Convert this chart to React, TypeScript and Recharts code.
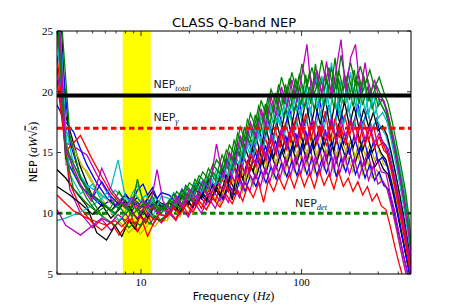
import { ComposedChart, Line, Area, XAxis, YAxis } from 'recharts';

const W = 457;
const H = 305;
// axes take 1px each, so the plot box is 57..411 x 31..274
const MARGIN = { top: 30, right: 45, bottom: 30, left: 56 };

// frequency grids (Hz); B and C are shifted by a fraction of a bin
const FREQ_A = [
  3.0, 3.4, 3.8, 4.6, 5.3, 6.1, 6.9, 7.6, 8.4, 9.2, 9.9, 10.7, 11.4, 12.2, 13.0,
  14.5, 16, 17.5, 19, 21, 23, 25.5, 28,
  31, 34, 37, 40, 43, 46, 50, 54,
  58, 62, 67, 72, 78, 84, 90, 97,
  104, 112, 120, 129, 138, 148, 159, 170,
  182, 195, 209, 224, 240, 257, 275, 294,
  314, 335, 357, 380, 404, 430, 458, 480,
];
const FREQ_B = [
  3.0, 3.4, 4.2, 4.9, 5.7, 6.5, 7.2, 8.0, 8.8, 9.5, 10.3, 11.0, 11.8, 12.6, 13.7,
  15.2, 16.7, 18.2, 20.0, 22.0, 24.2, 26.7, 29.5,
  32.5, 35.5, 38.5, 41.5, 44.5, 48, 52, 56,
  60, 64.5, 69.5, 75, 81, 87, 93.5, 100.5,
  108, 116, 124.5, 133.5, 143, 153.5, 164.5, 176,
  188.5, 202, 216.5, 232, 248.5, 266, 284.5, 304,
  324.5, 346, 368.5, 392, 417, 444, 469, 480,
];
const FREQ_C = [
  3.0, 3.6, 4.2, 5.0, 5.7, 6.5, 7.3, 8.0, 8.8, 9.5, 10.3, 11.0, 11.8, 12.6, 13.4,
  15.0, 16.5, 18.0, 19.7, 21.7, 23.8, 26.3, 29.0,
  32, 35, 38, 41, 44, 47.5, 51.5, 55.5,
  59.5, 63.5, 68.5, 73.5, 79.5, 85.5, 92, 99,
  106, 114, 122, 131, 140.5, 150.5, 161.5, 173,
  185, 198.5, 212.5, 228, 244, 261.5, 280, 299,
  319.5, 341, 363, 386, 410, 437, 462, 480,
];

// detector NEP curves (aW*sqrt(s)), one value per grid frequency
const blueA = [
  18.9, 17.5, 16.7, 14.0, 12.5, 11.3, 10.6, 10.9, 10.2, 10.8, 10.4, 11.0, 10.5, 10.9, 10.6,
  10.6, 11.6, 11.0, 12.1, 11.5, 12.6, 12.1, 13.3,
  12.7, 14.3, 13.6, 15.3, 14.3, 16.2, 15.0, 16.9,
  15.7, 17.6, 16.3, 18.3, 16.8, 18.6, 17.0, 19.1,
  17.2, 18.8, 17.1, 19.4, 17.5, 18.9, 16.9, 19.2,
  17.6, 18.7, 17.0, 19.0, 17.3, 18.5, 16.8, 17.8,
  16.0, 15.6, 14.2, 12.8, 11.0, 9.2, 7.1, 5.6,
];
const greenB = [
  27.0, 15.5, 12.8, 11.6, 10.9, 10.2, 10.7, 9.9, 10.6, 12.8, 10.9, 10.4, 10.9, 10.2, 10.7,
  10.5, 11.8, 11.2, 12.5, 12.0, 13.4, 12.7, 14.4,
  13.6, 15.6, 14.8, 17.1, 16.0, 18.2, 17.0, 19.3,
  18.1, 20.2, 19.0, 21.2, 19.6, 21.6, 20.0, 22.3,
  20.4, 22.0, 20.3, 22.6, 20.6, 21.9, 20.2, 23.0,
  20.8, 22.4, 20.5, 22.1, 20.6, 21.8, 20.3, 21.2,
  20.0, 19.0, 17.4, 15.6, 13.8, 11.8, 9.4, 7.4,
];
const redA = [
  11.5, 10.8, 10.2, 9.6, 9.3, 9.0, 9.4, 8.9, 9.5, 9.1, 9.7, 9.2, 9.8, 9.4, 9.9,
  9.7, 10.5, 9.9, 10.8, 10.1, 11.0, 10.3, 11.2,
  10.5, 11.5, 10.8, 11.9, 11.0, 12.2, 11.3, 12.5,
  10.9, 12.7, 11.8, 13.0, 12.0, 13.2, 12.1, 13.4,
  12.2, 13.3, 12.1, 13.5, 12.3, 13.2, 12.0, 13.4,
  12.2, 12.9, 11.8, 12.6, 11.5, 12.2, 11.0, 11.6,
  10.6, 10.3, 8.9, 7.3, 5.9, 4.6, 3.8, 3.2,
];
const cyanB = [
  9.4, 9.6, 10.1, 10.6, 11.2, 12.1, 14.4, 11.3, 10.8, 10.1, 10.9, 10.3, 11.1, 10.5, 10.2,
  10.0, 11.3, 10.7, 11.9, 11.2, 12.7, 12.0, 13.6,
  12.8, 14.6, 13.8, 15.9, 14.9, 16.8, 15.8, 17.9,
  16.8, 18.8, 17.5, 19.4, 18.0, 20.1, 18.4, 20.6,
  18.7, 20.8, 18.6, 21.3, 18.9, 22.4, 18.5, 20.9,
  19.0, 21.6, 18.7, 20.7, 18.4, 20.2, 18.1, 19.3,
  18.6, 17.8, 16.6, 15.0, 13.2, 11.3, 8.9, 6.9,
];
const magentaA = [
  26.0, 15.8, 15.5, 14.8, 13.2, 11.8, 10.7, 11.2, 10.3, 10.9, 10.1, 10.6, 10.0, 10.5, 9.9,
  9.8, 10.7, 10.1, 11.1, 10.4, 11.5, 10.7, 11.9,
  11.0, 12.5, 11.6, 13.1, 12.0, 13.6, 12.5, 14.1,
  13.0, 14.5, 13.3, 14.9, 13.6, 15.2, 13.8, 15.4,
  13.9, 15.6, 13.8, 15.3, 14.0, 15.7, 13.7, 15.5,
  14.1, 15.8, 13.9, 15.4, 13.8, 15.0, 13.6, 14.5,
  13.4, 13.3, 11.6, 10.2, 8.4, 6.6, 5.0, 4.0,
];
const yellowB = [
  29.0, 16.8, 14.2, 12.6, 11.5, 10.8, 11.3, 10.5, 11.1, 10.4, 11.0, 10.6, 11.2, 10.7, 10.3,
  10.2, 11.1, 10.4, 11.6, 10.9, 12.0, 11.2, 12.5,
  11.6, 13.1, 12.2, 13.8, 12.7, 14.4, 13.3, 14.9,
  13.8, 15.4, 14.1, 15.8, 14.5, 16.1, 14.8, 16.3,
  14.9, 16.4, 14.8, 16.2, 15.0, 16.6, 14.7, 16.3,
  15.1, 16.0, 14.6, 16.2, 14.8, 15.7, 14.4, 15.2,
  14.0, 13.9, 12.4, 10.9, 9.1, 7.3, 5.6, 4.4,
];
const blackA = [
  13.6, 12.9, 12.0, 10.6, 8.4, 7.8, 9.0, 8.1, 9.4, 8.7, 9.9, 9.2, 10.1, 9.6, 9.4,
  9.8, 10.8, 10.0, 11.3, 10.5, 11.8, 11.0, 12.4,
  11.4, 13.1, 11.1, 13.9, 12.8, 14.3, 13.5, 15.3,
  14.1, 15.8, 14.6, 16.3, 15.0, 16.7, 15.2, 16.9,
  15.4, 16.9, 15.3, 17.2, 15.6, 16.8, 15.1, 17.4,
  15.7, 16.9, 15.4, 16.6, 15.2, 16.4, 15.0, 15.8,
  14.9, 14.4, 12.9, 11.3, 9.5, 7.6, 5.8, 4.6,
];
const blueB = [
  25.5, 14.5, 12.2, 11.4, 10.6, 11.1, 10.4, 11.0, 10.2, 10.9, 10.5, 11.2, 10.6, 10.2, 10.8,
  10.3, 11.0, 10.4, 11.3, 10.6, 11.6, 10.9, 11.9,
  11.1, 12.3, 11.5, 12.8, 11.8, 13.1, 12.2, 13.5,
  12.5, 13.8, 12.8, 14.1, 13.0, 14.3, 13.1, 14.5,
  13.2, 14.6, 13.1, 14.4, 13.3, 14.7, 13.0, 14.5,
  13.4, 14.8, 13.2, 14.3, 12.9, 14.0, 12.7, 13.4,
  12.3, 12.0, 10.6, 9.0, 7.4, 5.8, 4.5, 3.6,
];
const greenA = [
  28.0, 16.0, 13.4, 11.2, 10.1, 9.5, 9.0, 9.6, 8.8, 9.3, 9.0, 9.5, 9.1, 9.8, 9.4,
  9.8, 11.0, 10.3, 11.7, 11.0, 12.5, 11.8, 13.4,
  12.6, 14.5, 13.7, 15.8, 14.7, 16.7, 15.6, 17.8,
  16.6, 18.7, 17.4, 19.5, 17.9, 20.0, 18.3, 20.5,
  18.6, 20.4, 18.5, 20.8, 18.9, 20.6, 18.7, 21.1,
  19.0, 20.7, 18.8, 20.9, 18.9, 20.4, 18.6, 19.8,
  18.9, 18.2, 16.7, 15.0, 13.1, 11.0, 8.7, 6.6,
];
const redB = [
  21.0, 15.1, 16.4, 14.6, 13.0, 11.7, 11.0, 10.4, 10.9, 10.2, 10.7, 10.0, 10.6, 10.1, 10.5,
  10.0, 11.1, 10.4, 11.6, 10.8, 12.0, 11.3, 12.6,
  11.8, 13.4, 12.5, 14.2, 13.2, 14.8, 13.8, 15.5,
  14.3, 16.1, 14.8, 16.6, 15.2, 16.9, 15.4, 17.2,
  15.6, 17.3, 15.7, 17.0, 15.5, 17.4, 15.8, 17.1,
  15.6, 17.5, 15.9, 17.2, 15.6, 17.0, 15.4, 16.3,
  15.2, 14.8, 13.2, 11.6, 9.8, 7.9, 6.0, 4.7,
];
const cyanA = [
  30.0, 17.2, 14.0, 12.3, 11.8, 11.2, 11.9, 11.4, 10.8, 11.6, 11.0, 11.5, 10.9, 11.3, 10.8,
  10.5, 11.7, 10.9, 12.1, 11.3, 12.7, 11.9, 13.3,
  12.4, 14.1, 13.2, 15.0, 14.0, 15.8, 14.7, 16.6,
  15.4, 17.2, 15.9, 17.8, 16.3, 18.2, 16.6, 18.4,
  16.8, 18.6, 16.7, 18.3, 17.0, 18.8, 16.9, 18.5,
  17.2, 18.9, 16.8, 18.6, 17.1, 18.4, 16.9, 17.7,
  17.0, 16.4, 15.1, 13.5, 11.7, 9.7, 7.6, 5.9,
];
const magentaB = [
  30.0, 15.2, 12.4, 11.0, 13.7, 12.0, 11.2, 10.6, 11.3, 10.5, 11.1, 10.4, 11.6, 13.6, 11.0,
  10.2, 11.4, 10.6, 12.0, 11.3, 12.6, 12.0, 15.7,
  12.9, 15.0, 14.0, 16.4, 15.2, 17.5, 16.2, 18.6,
  17.1, 19.6, 18.0, 20.4, 18.7, 21.0, 19.1, 21.4,
  23.9, 19.5, 21.8, 19.8, 22.5, 19.6, 21.9, 24.3,
  20.0, 22.8, 23.9, 19.9, 22.4, 19.6, 21.0, 19.4,
  19.3, 18.0, 16.2, 14.4, 12.4, 10.3, 8.0, 6.2,
];
const yellowA = [
  25.8, 14.0, 14.3, 13.5, 12.0, 10.6, 9.6, 9.1, 8.4, 8.9, 8.3, 8.8, 9.3, 8.9, 9.4,
  9.4, 10.4, 9.7, 10.7, 10.0, 11.1, 10.3, 11.5,
  10.7, 12.0, 11.2, 12.6, 11.7, 13.2, 12.2, 13.6,
  12.6, 14.1, 12.9, 14.4, 13.2, 14.7, 13.4, 14.9,
  13.5, 14.8, 13.4, 15.0, 13.6, 14.9, 13.3, 15.1,
  13.7, 14.6, 13.4, 14.8, 13.2, 14.3, 12.9, 13.6,
  12.6, 12.3, 10.9, 9.3, 7.6, 5.9, 4.6, 3.7,
];
const blackB = [
  33.0, 18.0, 13.8, 11.6, 10.8, 10.2, 10.9, 11.5, 10.9, 11.3, 10.6, 11.2, 11.8, 11.1, 10.7,
  10.0, 10.9, 10.2, 11.3, 10.6, 11.7, 10.9, 12.2,
  11.2, 12.8, 11.9, 13.4, 12.4, 13.9, 12.9, 14.4,
  13.3, 14.9, 13.7, 15.2, 14.0, 15.5, 14.1, 15.7,
  14.3, 15.8, 14.2, 15.6, 14.4, 15.9, 14.1, 15.7,
  14.5, 16.0, 14.3, 15.5, 14.0, 15.2, 13.8, 14.4,
  13.6, 13.2, 11.8, 10.2, 8.4, 6.7, 5.1, 4.0,
];
const magentaB2 = [
  10.3, 9.0, 8.2, 8.9, 9.6, 9.2, 9.9, 9.4, 10.1, 9.6, 10.3, 9.8, 10.5, 10.0, 10.4,
  9.9, 11.1, 10.3, 11.6, 10.8, 12.1, 11.3, 12.7,
  11.9, 13.6, 12.6, 14.4, 13.3, 15.1, 14.0, 15.8,
  14.6, 16.5, 15.1, 17.0, 15.5, 17.3, 15.8, 17.6,
  16.0, 17.7, 15.9, 17.4, 16.2, 17.9, 16.0, 17.6,
  16.3, 17.8, 15.9, 17.5, 16.1, 17.2, 15.8, 16.6,
  15.7, 15.3, 13.8, 12.1, 10.3, 8.4, 6.4, 5.0,
];
const greenA2 = [
  26.5, 14.8, 12.0, 10.8, 10.1, 10.6, 10.0, 10.8, 10.3, 11.1, 10.5, 10.9, 10.2, 10.7, 10.4,
  10.4, 11.6, 10.9, 12.3, 11.7, 13.1, 12.5, 14.0,
  13.3, 15.2, 14.4, 16.6, 15.5, 17.7, 16.6, 18.8,
  17.6, 19.7, 18.4, 20.6, 19.0, 21.1, 19.4, 21.5,
  19.7, 21.6, 19.8, 21.3, 20.1, 22.0, 19.9, 21.8,
  20.2, 21.5, 19.8, 21.7, 20.0, 21.1, 19.7, 20.5,
  19.6, 18.6, 17.0, 15.3, 13.5, 11.5, 9.1, 7.0,
];
const cyanC = [
  24.5, 13.2, 11.6, 12.4, 11.0, 10.2, 9.4, 10.1, 11.6, 12.3, 11.2, 10.3, 9.7, 10.6, 11.4,
  11.2, 10.6, 11.9, 11.1, 12.5, 11.7, 13.2, 12.3,
  14.0, 13.1, 15.0, 14.0, 16.1, 14.9, 17.0, 15.8,
  17.9, 16.6, 18.8, 17.2, 19.6, 17.8, 20.2, 18.1,
  20.5, 18.2, 21.6, 17.9, 20.7, 18.4, 21.2, 18.0,
  20.9, 18.3, 20.4, 17.9, 21.0, 18.2, 19.8, 17.8,
  18.3, 17.5, 15.9, 14.1, 12.3, 10.2, 8.1, 6.6,
];
const redC = [
  23.0, 12.5, 10.4, 9.2, 8.6, 9.3, 8.2, 8.9, 9.6, 8.5, 9.2, 8.1, 9.0, 9.8, 9.3,
  10.2, 9.5, 10.8, 9.9, 11.3, 10.4, 11.9, 11.0,
  12.8, 11.8, 13.7, 12.6, 14.6, 13.4, 15.4, 14.2,
  16.2, 14.9, 16.9, 15.4, 17.5, 15.8, 17.9, 16.1,
  18.2, 16.0, 17.6, 16.3, 18.4, 15.9, 17.8, 16.2,
  18.1, 16.4, 17.7, 15.8, 17.6, 16.0, 17.2, 15.5,
  15.8, 14.9, 13.4, 11.7, 9.9, 8.0, 6.1, 4.8,
];
const blueC = [
  27.5, 15.9, 13.0, 11.3, 12.6, 11.4, 10.7, 11.6, 10.9, 11.9, 12.4, 11.5, 12.1, 11.2, 11.7,
  11.5, 10.9, 12.0, 11.3, 12.4, 11.6, 12.9, 12.0,
  13.4, 12.4, 13.9, 12.9, 14.5, 13.4, 15.0, 13.8,
  15.6, 14.2, 16.0, 14.5, 16.4, 14.7, 16.6, 14.8,
  16.8, 14.9, 16.5, 15.0, 16.9, 14.7, 16.6, 15.1,
  16.7, 14.8, 16.4, 14.9, 16.2, 14.5, 15.9, 14.3,
  14.6, 13.9, 12.5, 10.8, 9.1, 7.2, 5.5, 4.3,
];
const greenC = [
  31.0, 16.5, 12.9, 11.0, 9.8, 10.5, 11.8, 10.9, 9.7, 10.4, 9.9, 10.8, 11.4, 10.5, 10.0,
  11.1, 10.5, 11.9, 11.2, 12.8, 11.9, 13.7, 12.7,
  14.8, 13.6, 16.0, 14.7, 17.1, 15.7, 18.1, 16.6,
  19.0, 17.3, 19.9, 18.1, 20.6, 18.6, 21.1, 18.9,
  21.4, 19.0, 22.3, 19.2, 21.6, 19.4, 22.8, 19.1,
  21.5, 19.3, 21.8, 19.0, 21.3, 19.2, 20.7, 18.8,
  19.4, 18.5, 16.9, 15.2, 13.3, 11.3, 9.0, 7.1,
];
const magentaC = [
  22.0, 12.0, 10.0, 8.8, 9.5, 8.6, 9.3, 10.0, 9.1, 8.5, 9.4, 9.9, 9.0, 9.6, 9.2,
  10.0, 9.4, 10.4, 9.7, 10.8, 10.0, 11.3, 10.4,
  11.8, 10.9, 12.3, 11.3, 12.8, 11.8, 13.3, 12.2,
  13.8, 12.6, 14.2, 12.9, 14.6, 13.1, 14.8, 13.2,
  15.0, 13.1, 14.7, 13.4, 15.2, 13.0, 14.9, 13.3,
  14.8, 13.2, 14.5, 12.9, 14.3, 12.7, 13.9, 12.4,
  12.7, 12.0, 10.6, 9.0, 7.3, 5.6, 4.2, 3.3,
];
const blackC = [
  12.2, 11.5, 10.8, 9.9, 10.7, 9.6, 10.3, 11.0, 10.1, 9.5, 10.2, 9.6, 10.4, 11.0, 10.5,
  10.9, 10.2, 11.5, 10.7, 12.1, 11.2, 12.8, 11.8,
  13.7, 12.6, 14.7, 13.5, 15.6, 14.3, 16.4, 15.0,
  17.2, 15.7, 18.0, 16.3, 18.6, 16.7, 19.0, 17.0,
  19.3, 17.1, 18.9, 17.3, 19.5, 17.0, 19.1, 17.4,
  19.2, 17.2, 18.8, 17.0, 18.6, 17.1, 18.3, 16.8,
  17.2, 16.4, 14.9, 13.2, 11.4, 9.4, 7.4, 5.8,
];

// reference levels
const NEP_TOTAL = 19.7;
const NEP_GAMMA = 17.0;
const NEP_DET = 10.0;
const BAND = [7.7, 11.5]; // yellow frequency band (Hz)

const X_TICKS = [3, 4, 5, 6, 7, 8, 9, 10, 20, 30, 40, 50, 60, 70, 80, 90, 100, 200, 300, 400];
const X_MAJOR = [10, 100];
const Y_TICKS = [5, 10, 15, 20, 25];

const C = {
  b: '#0000ff',
  g: '#008000',
  r: '#ff0000',
  c: '#00bfbf',
  m: '#bf00bf',
  y: '#bfbf00',
  k: '#000000',
};

// drawing order (later ones on top)
const SERIES = [
  { id: 'yA', freq: FREQ_A, values: yellowA, color: C.y },
  { id: 'kB', freq: FREQ_B, values: blackB, color: C.k },
  { id: 'bB', freq: FREQ_B, values: blueB, color: C.b },
  { id: 'mA', freq: FREQ_A, values: magentaA, color: C.m },
  { id: 'mC', freq: FREQ_C, values: magentaC, color: C.m },
  { id: 'yB', freq: FREQ_B, values: yellowB, color: C.y },
  { id: 'kA', freq: FREQ_A, values: blackA, color: C.k },
  { id: 'bC', freq: FREQ_C, values: blueC, color: C.b },
  { id: 'bA', freq: FREQ_A, values: blueA, color: C.b },
  { id: 'rC', freq: FREQ_C, values: redC, color: C.r },
  { id: 'cA', freq: FREQ_A, values: cyanA, color: C.c },
  { id: 'kC', freq: FREQ_C, values: blackC, color: C.k },
  { id: 'cB', freq: FREQ_B, values: cyanB, color: C.c },
  { id: 'gA', freq: FREQ_A, values: greenA, color: C.g },
  { id: 'rB', freq: FREQ_B, values: redB, color: C.r },
  { id: 'mB2', freq: FREQ_B, values: magentaB2, color: C.m },
  { id: 'cC', freq: FREQ_C, values: cyanC, color: C.c },
  { id: 'rA', freq: FREQ_A, values: redA, color: C.r },
  { id: 'gA2', freq: FREQ_A, values: greenA2, color: C.g },
  { id: 'gC', freq: FREQ_C, values: greenC, color: C.g },
  { id: 'gB', freq: FREQ_B, values: greenB, color: C.g },
  { id: 'mB', freq: FREQ_B, values: magentaB, color: C.m },
];

const toRows = (freq: number[], values: number[]) => freq.map((f, i) => ({ f, v: values[i] }));
const flat = (v: number) => [{ f: 3, v }, { f: 480, v }];

const SERIF = 'Liberation Serif, DejaVu Serif, serif';
const SANS = 'DejaVu Sans, sans-serif';

function BottomTick(props: any) {
  const { x, y, payload } = props;
  const major = X_MAJOR.includes(payload.value);
  return (
    <g>
      <line x1={x} x2={x} y1={y} y2={y - (major ? 5 : 2.5)} stroke="#000" strokeWidth={0.8} />
      {major && (
        <text x={x} y={y + 12} textAnchor="middle" fontFamily={SERIF} fontSize={11} fill="#000">
          {payload.value}
        </text>
      )}
    </g>
  );
}

function TopTick(props: any) {
  const { x, y, payload } = props;
  const major = X_MAJOR.includes(payload.value);
  return <line x1={x} x2={x} y1={y} y2={y + (major ? 5 : 2.5)} stroke="#000" strokeWidth={0.8} />;
}

function LeftTick(props: any) {
  const { x, y, payload } = props;
  return (
    <g>
      <line x1={x} x2={x + 4} y1={y} y2={y} stroke="#000" strokeWidth={0.8} />
      <text x={x - 4} y={y} dy="0.35em" textAnchor="end" fontFamily={SERIF} fontSize={11} fill="#000">
        {payload.value}
      </text>
    </g>
  );
}

function RightTick(props: any) {
  const { x, y } = props;
  return <line x1={x} x2={x - 4} y1={y} y2={y} stroke="#000" strokeWidth={0.8} />;
}

export default function App() {
  return (
    <div style={{ position: 'absolute', left: 0, top: 0, width: W, height: H, background: '#fff' }}>
      <ComposedChart width={W} height={H} margin={MARGIN}>
        <XAxis
          xAxisId={0}
          dataKey="f"
          type="number"
          scale="log"
          domain={[3, 480]}
          allowDataOverflow
          ticks={X_TICKS}
          interval={0}
          height={1}
          tickSize={0}
          tickMargin={0}
          tick={BottomTick}
          axisLine={{ stroke: '#000' }}
        />
        <XAxis
          xAxisId="top"
          orientation="top"
          dataKey="f"
          type="number"
          scale="log"
          domain={[3, 480]}
          allowDataOverflow
          ticks={X_TICKS}
          interval={0}
          height={1}
          tickSize={0}
          tickMargin={0}
          tick={TopTick}
          axisLine={{ stroke: '#000' }}
        />
        <YAxis
          yAxisId={0}
          type="number"
          domain={[5, 25]}
          allowDataOverflow
          ticks={Y_TICKS}
          interval={0}
          width={1}
          tickSize={0}
          tickMargin={0}
          tick={LeftTick}
          axisLine={{ stroke: '#000' }}
        />
        <YAxis
          yAxisId="right"
          orientation="right"
          type="number"
          domain={[5, 25]}
          allowDataOverflow
          ticks={Y_TICKS}
          interval={0}
          width={1}
          tickSize={0}
          tickMargin={0}
          tick={RightTick}
          axisLine={{ stroke: '#000' }}
        />

        <Area
          data={[{ f: BAND[0], v: 25 }, { f: BAND[1], v: 25 }]}
          dataKey="v"
          type="linear"
          baseValue={5}
          fill="#ffff00"
          fillOpacity={1}
          stroke="none"
          isAnimationActive={false}
        />
        <Line
          data={flat(NEP_DET)}
          dataKey="v"
          type="linear"
          stroke="#008000"
          strokeWidth={3}
          strokeDasharray="5.5 3.5"
          dot={false}
          activeDot={false}
          isAnimationActive={false}
        />
        {SERIES.map((s) => (
          <Line
            key={s.id}
            data={toRows(s.freq, s.values)}
            dataKey="v"
            type="linear"
            stroke={s.color}
            strokeWidth={1.3}
            dot={false}
            activeDot={false}
            isAnimationActive={false}
          />
        ))}
        <Line
          data={flat(NEP_GAMMA)}
          dataKey="v"
          type="linear"
          stroke="#ff0000"
          strokeWidth={3}
          strokeDasharray="5.5 3.5"
          dot={false}
          activeDot={false}
          isAnimationActive={false}
        />
        <Line
          data={flat(NEP_TOTAL)}
          dataKey="v"
          type="linear"
          stroke="#000000"
          strokeWidth={4}
          dot={false}
          activeDot={false}
          isAnimationActive={false}
        />
      </ComposedChart>

      <svg width={W} height={H} style={{ position: 'absolute', left: 0, top: 0, pointerEvents: 'none' }}>
        <text x={234} y={27} textAnchor="middle" fontFamily={SANS} fontSize={13} fill="#000">
          CLASS Q-band NEP
        </text>
        <text x={233.5} y={300} textAnchor="middle" fontFamily={SANS} fontSize={11} fill="#000">
          Frequency <tspan fontFamily={SERIF} fontSize={12}>(</tspan>
          <tspan fontFamily={SERIF} fontSize={12} fontStyle="italic">Hz</tspan>
          <tspan fontFamily={SERIF} fontSize={12}>)</tspan>
        </text>
        <text
          transform="translate(36.5,152) rotate(-90)"
          textAnchor="middle"
          fontFamily={SANS}
          fontSize={11}
          fill="#000"
        >
          NEP <tspan fontFamily={SERIF} fontSize={12}>(</tspan>
          <tspan fontFamily={SERIF} fontSize={12} fontStyle="italic">aW</tspan>
          <tspan fontFamily={SERIF} fontSize={12}>√</tspan>
          <tspan fontFamily={SERIF} fontSize={12} fontStyle="italic" textDecoration="overline">s</tspan>
          <tspan fontFamily={SERIF} fontSize={12}>)</tspan>
        </text>
        <text x={153.5} y={88} fontFamily={SANS} fontSize={11} fill="#222">
          NEP<tspan fontFamily={SERIF} fontStyle="italic" fontSize={8.5} dy={2.5}>total</tspan>
        </text>
        <text x={153.5} y={121} fontFamily={SANS} fontSize={11} fill="#222">
          NEP<tspan fontFamily={SERIF} fontStyle="italic" fontSize={8.5} dy={2.5}>γ</tspan>
        </text>
        <text x={295} y={207} fontFamily={SANS} fontSize={11} fill="#222">
          NEP<tspan fontFamily={SERIF} fontStyle="italic" fontSize={8.5} dy={2.5}>det</tspan>
        </text>
      </svg>
    </div>
  );
}
